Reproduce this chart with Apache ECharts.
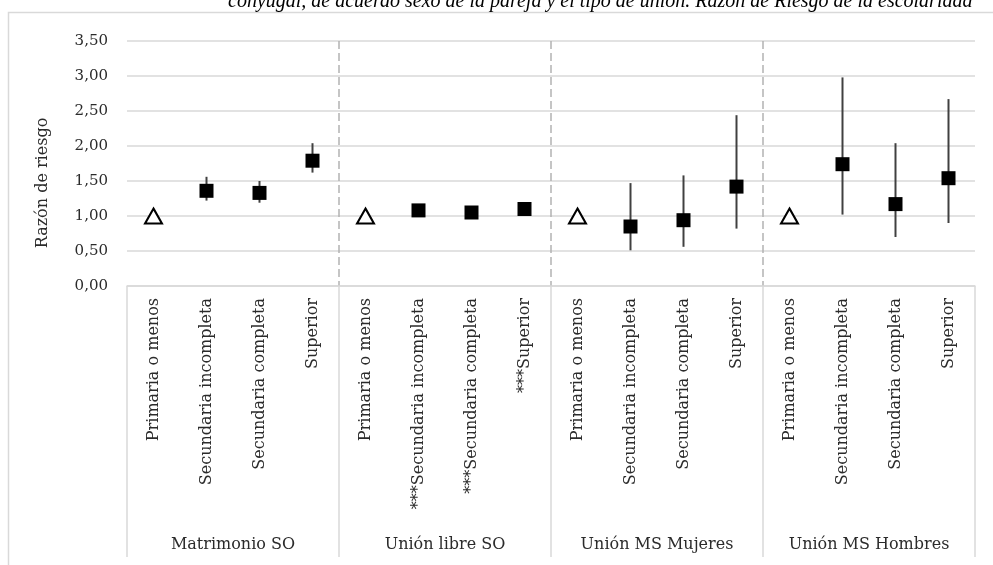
<!DOCTYPE html>
<html>
<head>
<meta charset="utf-8">
<script src="https://cdn.jsdelivr.net/npm/echarts@6/dist/echarts.min.js"></script>
<style>html,body{margin:0;padding:0;background:#fff;}#c{width:993px;height:565px;}</style>
</head>
<body>
<div id="c"></div>
<script>
// ---- data ----
var titleText = 'conyugal, de acuerdo sexo de la pareja y el tipo de unión. Razón de Riesgo de la escolaridad';
var yAxisName = 'Razón de riesgo';
var groups = ['Matrimonio SO', 'Unión libre SO', 'Unión MS Mujeres', 'Unión MS Hombres'];
var categories = [
  'Primaria o menos', 'Secundaria incompleta', 'Secundaria completa', 'Superior',
  'Primaria o menos', '***Secundaria incompleta', '***Secundaria completa', '***Superior',
  'Primaria o menos', 'Secundaria incompleta', 'Secundaria completa', 'Superior',
  'Primaria o menos', 'Secundaria incompleta', 'Secundaria completa', 'Superior'
];
var estimate = [1.00, 1.36, 1.33, 1.79,  1.00, 1.08, 1.05, 1.10,  1.00, 0.85, 0.94, 1.42,  1.00, 1.74, 1.17, 1.54];
var lower    = [null, 1.22, 1.19, 1.62,  null, 1.03, 1.00, 1.05,  null, 0.51, 0.56, 0.82,  null, 1.02, 0.70, 0.90];
var upper    = [null, 1.56, 1.50, 2.04,  null, 1.13, 1.10, 1.16,  null, 1.47, 1.58, 2.44,  null, 2.98, 2.04, 2.67];
var yTicks = [0, 0.5, 1, 1.5, 2, 2.5, 3, 3.5];

// ---- build ----
var FONT = '"DejaVu Serif"';
var TXT = '#2b2b2b';
var refPts = [], estPts = [], barPts = [];
for (var i = 0; i < categories.length; i++) {
  if (lower[i] === null) refPts.push([i, estimate[i]]);
  else { estPts.push([i, estimate[i]]); barPts.push([i, lower[i], upper[i]]); }
}

var chart = echarts.init(document.getElementById('c'), null, {renderer: 'canvas'});
chart.setOption({
  animation: false,
  backgroundColor: '#fff',
  grid: {left: 127, right: 18, top: 41, bottom: 279, containLabel: false},
  graphic: [
    {type: 'rect', shape: {x: 8.5, y: 12.5, width: 1000, height: 580}, style: {fill: 'none', stroke: '#d9d9d9', lineWidth: 1.5}, z: -1},
    {type: 'text', x: 228, y: 2, style: {text: titleText, font: 'italic 20px "Liberation Serif"', fill: '#000', textAlign: 'left', textVerticalAlign: 'middle'}},
    {type: 'text', x: 43, y: 183, rotation: Math.PI / 2, style: {text: yAxisName, font: '16px ' + FONT, fill: TXT, textAlign: 'center', textVerticalAlign: 'middle'}}
  ],
  xAxis: [
    {
      type: 'category', data: categories, position: 'bottom',
      axisLine: {show: true, lineStyle: {color: '#d9d9d9', width: 1.5}},
      axisTick: {show: false},
      axisLabel: {interval: 0, rotate: 90, margin: 12, fontFamily: FONT, fontSize: 16, color: TXT},
      splitLine: {show: false}
    },
    {
      type: 'category', data: groups, position: 'bottom', offset: 0,
      axisLine: {show: false},
      axisTick: {show: true, length: 271, interval: 0, lineStyle: {color: '#d9d9d9', width: 1.5}},
      axisLabel: {interval: 0, margin: 251, fontFamily: FONT, fontSize: 16, color: TXT},
      splitLine: {show: true, interval: 0, showMinLine: false, showMaxLine: false, lineStyle: {color: '#b3b3b3', width: 1.5, type: [8, 4]}}
    }
  ],
  yAxis: {
    type: 'value', min: yTicks[0], max: yTicks[yTicks.length - 1], interval: 0.5,
    axisLine: {show: false}, axisTick: {show: false},
    axisLabel: {margin: 19, fontFamily: FONT, fontSize: 15, color: TXT,
      formatter: function (v) { return v.toFixed(2).replace('.', ','); }},
    splitLine: {lineStyle: {color: '#d9d9d9', width: 1.5}}
  },
  series: [
    {
      type: 'custom', xAxisIndex: 0, data: barPts, z: 2,
      renderItem: function (params, api) {
        var x = api.value(0);
        var p1 = api.coord([x, api.value(1)]);
        var p2 = api.coord([x, api.value(2)]);
        return {type: 'line', shape: {x1: p1[0], y1: p1[1], x2: p2[0], y2: p2[1]}, style: {stroke: '#404040', lineWidth: 2}};
      }
    },
    {
      type: 'scatter', xAxisIndex: 0, data: estPts, symbol: 'rect', symbolSize: 14, z: 3,
      itemStyle: {color: '#000', borderColor: '#000', borderWidth: 0, opacity: 1}
    },
    {
      type: 'scatter', xAxisIndex: 0, data: refPts, symbol: 'triangle', symbolSize: [17, 15], z: 3,
      itemStyle: {color: '#fff', borderColor: '#000', borderWidth: 2, opacity: 1}
    }
  ]
});
</script>
</body>
</html>
